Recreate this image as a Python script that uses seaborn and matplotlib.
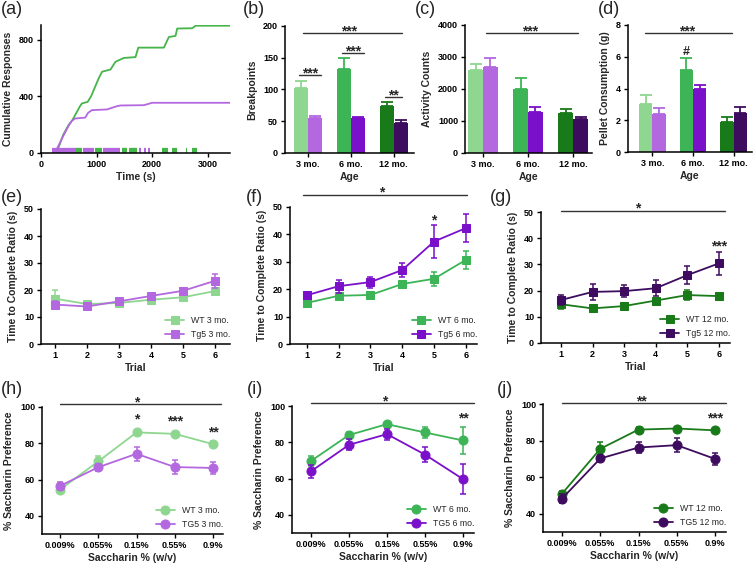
import numpy as np
import pandas as pd
import seaborn as sns
import matplotlib.pyplot as plt

sns.set_theme(style='ticks')
plt.rcParams['font.family'] = ['Liberation Sans', 'DejaVu Sans']
plt.rcParams['font.weight'] = 'bold'
plt.rcParams['axes.labelweight'] = 'bold'
plt.rcParams['axes.edgecolor'] = 'black'
plt.rcParams['axes.linewidth'] = 1.1
plt.rcParams['xtick.color'] = 'black'
plt.rcParams['ytick.color'] = 'black'

# ---- data ----
# (a) cumulative responses, one example session
wt_time = [280, 400, 500, 560, 645, 700, 735, 840, 900, 1040, 1100, 1250, 1340, 1490, 1700, 1750, 2210,
           2300, 2420, 2450, 2720, 2780, 3400]
wt_cum = [0, 130, 200, 230, 290, 330, 350, 362, 400, 530, 575, 590, 645, 672, 678, 745, 745,
          820, 828, 880, 882, 900, 900]
tg_time = [250, 400, 500, 555, 615, 795, 850, 916, 1187, 1367, 1428, 1850, 2000, 3400]
tg_cum = [0, 120, 195, 227, 244, 250, 285, 303, 308, 331, 336, 338, 355, 355]
wt_bursts = [(280, 310), (630, 730), (970, 1100), (1450, 1550), (1600, 1730), (2180, 2280),
             (2350, 2450), (2600, 2625), (2720, 2800)]
tg_bursts = [(190, 630), (650, 690), (760, 960), (1110, 1420), (1480, 1520), (1580, 1610),
             (1660, 1700), (1760, 1790), (1850, 1880), (1930, 1960)]

ages = ['3 mo.', '6 mo.', '12 mo.']
bp_wt = [103, 132, 74]
bp_wt_err = [11, 17, 7]
bp_tg = [54.6, 54.6, 48]
bp_tg_err = [3.5, 2, 4]
act_wt = [2595, 1990, 1240]
act_wt_err = [185, 345, 150]
act_tg = [2700, 1270, 1060]
act_tg_err = [260, 175, 50]
pel_wt = [3.02, 5.15, 1.9]
pel_wt_err = [0.6, 0.75, 0.3]
pel_tg = [2.4, 3.95, 2.44]
pel_tg_err = [0.4, 0.27, 0.4]

trials = [1, 2, 3, 4, 5, 6]
wt3_ttc = [16.8, 14.8, 15.2, 16.4, 17.3, 19.6]
wt3_ttc_err = [3.2, 1.0, 0.8, 0.8, 1.0, 1.2]
tg3_ttc = [14.6, 13.9, 15.8, 17.8, 19.7, 23.4]
tg3_ttc_err = [1.2, 0.8, 0.8, 0.8, 1.0, 2.6]
wt6_ttc = [15.0, 17.6, 17.9, 21.9, 23.8, 30.7]
wt6_ttc_err = [0.8, 1.0, 0.8, 1.2, 2.6, 3.2]
tg6_ttc = [17.8, 21.1, 22.6, 27.0, 37.4, 42.3]
tg6_ttc_err = [1.0, 2.4, 2.0, 2.5, 6.0, 5.0]
wt12_ttc = [14.8, 13.2, 14.1, 16.2, 18.3, 17.9]
wt12_ttc_err = [1.8, 0.8, 0.8, 1.0, 2.0, 0.8]
tg12_ttc = [16.4, 19.5, 19.8, 20.9, 25.9, 30.4]
tg12_ttc_err = [2.0, 3.1, 2.3, 3.0, 3.4, 4.5]

sacc = ['0.009%', '0.055%', '0.15%', '0.55%', '0.9%']
wt3_sp = [54.5, 70.0, 86.0, 85.2, 79.5]
wt3_sp_err = [1.5, 2.8, 1.0, 1.0, 1.5]
tg3_sp = [56.5, 66.8, 74.2, 66.9, 66.4]
tg3_sp_err = [2.0, 2.0, 4.0, 3.8, 3.2]
wt6_sp = [69.7, 84.0, 90.0, 85.4, 81.0]
wt6_sp_err = [2.5, 1.5, 1.0, 3.0, 7.3]
tg6_sp = [64.0, 78.6, 84.5, 73.2, 59.7]
tg6_sp_err = [3.6, 3.0, 3.0, 4.3, 8.2]
wt12_sp = [51.0, 75.5, 86.0, 86.6, 85.6]
wt12_sp_err = [1.5, 3.7, 1.5, 1.0, 1.5]
tg12_sp = [48.3, 70.2, 76.2, 77.5, 70.0]
tg12_sp_err = [2.5, 1.8, 2.8, 3.8, 3.2]

wt_cols = ['#8fd690', '#3db556', '#197a19']
tg_cols = ['#b368e0', '#7a10c9', '#3e0c5e']

W, H = 754, 566
fig = plt.figure(figsize=(W / 100, H / 100), dpi=100)


def panel(l, t, r, b):
    ax = fig.add_axes([l / W, 1 - b / H, (r - l) / W, (b - t) / H])
    sns.despine(ax=ax)
    ax.tick_params(length=3, width=1, labelsize=6.5, pad=2)
    return ax


def sig(ax, x0, x1, y, txt, tx=None):
    ax.plot([x0, x1], [y, y], color='#333333', lw=1, clip_on=False)
    ax.annotate(txt, ((x0 + x1) / 2 if tx is None else tx, y), xytext=(0, -1.5),
                textcoords='offset points', ha='center', va='baseline', fontsize=10,
                annotation_clip=False)


def star(ax, x, y, txt):
    ax.annotate(txt, (x, y), xytext=(0, -3), textcoords='offset points', ha='center',
                va='baseline', fontsize=10, annotation_clip=False)


def bar_panel(ax, wt, wt_err, tg, tg_err):
    df = pd.DataFrame({'age': ages * 2, 'val': wt + tg, 'geno': ['WT'] * 3 + ['Tg5'] * 3})
    sns.barplot(data=df, x='age', y='val', hue='geno', order=ages, hue_order=['WT', 'Tg5'],
                width=0.66, errorbar=None, legend=False, saturation=1, ax=ax)
    for cont, cols, errs in zip(ax.containers, [wt_cols, tg_cols], [wt_err, tg_err]):
        for bar, c, e in zip(cont, cols, errs):
            bar.set_facecolor(c)
            bar.set_edgecolor('none')
            xc = bar.get_x() + bar.get_width() / 2
            ax.errorbar(xc, bar.get_height(), yerr=[[0], [e]], color=c, capsize=4,
                        elinewidth=1.3, capthick=1.3)
    ax.set_xlabel('Age', fontsize=7.5, labelpad=2)


def line_panel(ax, x, wt, wt_err, tg, tg_err, cw, ct, marker, ms, labels):
    for y, e, c, lab in [(wt, wt_err, cw, labels[0]), (tg, tg_err, ct, labels[1])]:
        sns.lineplot(x=x, y=y, color=c, marker=marker, markersize=ms, markeredgecolor=c,
                     lw=1.3, label=lab, ax=ax)
        ax.errorbar(x, y, yerr=e, fmt='none', ecolor=c, capsize=2.5, elinewidth=1.1, capthick=1.1)
    ax.legend(loc='lower right', frameon=False, prop={'weight': 'normal', 'size': 6.3},
              handlelength=2.2, borderaxespad=0.2, labelspacing=0.5, bbox_to_anchor=(1.03, 0))


# (a)
ax = panel(41, 25, 230, 153)
sns.lineplot(x=wt_time, y=wt_cum, color='#45b549', lw=1.3, sort=False, ax=ax)
sns.lineplot(x=tg_time, y=tg_cum, color='#b368e0', lw=1.3, sort=False, ax=ax)
for t0, t1 in tg_bursts:
    ax.hlines(14, t0, t1, color='#b368e0', lw=4.5)
for t0, t1 in wt_bursts:
    ax.hlines(14, t0, t1, color='#45b549', lw=4.5)
ax.set_xlim(0, 3400)
ax.set_ylim(0, 905)
ax.set_xticks([0, 1000, 2000, 3000])
ax.set_yticks([0, 400, 800])
ax.set_xlabel('Time (s)', fontsize=7.5, labelpad=2)
ax.set_ylabel('Cumulative Responses', fontsize=7.5)

# (b)
ax = panel(285, 26, 414, 153)
bar_panel(ax, bp_wt, bp_wt_err, bp_tg, bp_tg_err)
ax.set_xlim(-0.53, 2.47)
ax.set_ylim(0, 200)
ax.set_yticks([0, 50, 100, 150, 200])
ax.set_ylabel('Breakpoints', fontsize=7.5)
sig(ax, -0.1, 2.2, 189, '***', tx=0.95)
sig(ax, -0.2, 0.3, 123, '***')
sig(ax, 0.8, 1.3, 157, '***')
sig(ax, 1.8, 2.2, 88, '**')

# (c)
ax = panel(465, 25, 592, 153)
bar_panel(ax, act_wt, act_wt_err, act_tg, act_tg_err)
ax.set_xlim(-0.4, 2.42)
ax.set_ylim(0, 4000)
ax.set_yticks([0, 1000, 2000, 3000, 4000])
ax.set_ylabel('Activity Counts', fontsize=7.5)
sig(ax, 0.07, 2.1, 3750, '***', tx=1.04)

# (d)
ax = panel(628, 25, 752, 152)
bar_panel(ax, pel_wt, pel_wt_err, pel_tg, pel_tg_err)
ax.set_xlim(-0.6, 2.45)
ax.set_ylim(0, 8)
ax.set_yticks([0, 2, 4, 6, 8])
ax.set_ylabel('Pellet Consumption (g)', fontsize=7.5)
sig(ax, -0.17, 1.95, 7.5, '***', tx=0.86)
ax.text(0.84, 6.3, '#', ha='center', va='center', fontsize=9)

# (e)-(g)
ttc = [
    ((41, 209, 230, 344), (0.56, 6.47), wt3_ttc, wt3_ttc_err, tg3_ttc, tg3_ttc_err, 0, ['WT 3 mo.', 'Tg5 3 mo.']),
    ((290, 207, 477, 344), (0.47, 6.35), wt6_ttc, wt6_ttc_err, tg6_ttc, tg6_ttc_err, 1, ['WT 6 mo.', 'Tg5 6 mo.']),
    ((541, 212, 730, 343), (0.37, 6.35), wt12_ttc, wt12_ttc_err, tg12_ttc, tg12_ttc_err, 2, ['WT 12 mo.', 'Tg5 12 mo.']),
]
ttc_axes = []
for box, xl, wt, we, tg, te, k, labs in ttc:
    ax = panel(*box)
    line_panel(ax, trials, wt, we, tg, te, wt_cols[k], tg_cols[k], 's', 5.5, labs)
    ax.set_xlim(*xl)
    ax.set_ylim(0, 50)
    ax.set_xticks(trials)
    ax.set_yticks([0, 10, 20, 30, 40, 50])
    ax.set_xlabel('Trial', fontsize=7.5, labelpad=2)
    ax.set_ylabel('Time to Complete Ratio (s)', fontsize=7.5)
    ttc_axes.append(ax)
sig(ttc_axes[1], 0.87, 6.02, 54.5, '*', tx=3.35)
star(ttc_axes[1], 5, 45, '*')
sig(ttc_axes[2], 1.0, 6.2, 50.5, '*', tx=3.44)
star(ttc_axes[2], 6, 37, '***')

# (h)-(j)
sp = [
    ((42, 407, 223, 534), (-0.47, 4.26), wt3_sp, wt3_sp_err, tg3_sp, tg3_sp_err, 0, ['WT 3 mo.', 'TG5 3 mo.']),
    ((292, 406, 474, 533), (-0.5, 4.29), wt6_sp, wt6_sp_err, tg6_sp, tg6_sp_err, 1, ['WT 6 mo.', 'TG5 6 mo.']),
    ((543, 404, 726, 532), (-0.5, 4.29), wt12_sp, wt12_sp_err, tg12_sp, tg12_sp_err, 2, ['WT 12 mo.', 'TG5 12 mo.']),
]
sp_axes = []
pos = list(range(len(sacc)))
for box, xl, wt, we, tg, te, k, labs in sp:
    ax = panel(*box)
    line_panel(ax, pos, wt, we, tg, te, wt_cols[k], tg_cols[k], 'o', 6.5, labs)
    ax.set_xlim(*xl)
    ax.set_ylim(30, 100)
    ax.set_xticks(pos)
    ax.set_xticklabels(sacc)
    ax.set_yticks([40, 60, 80, 100])
    ax.set_xlabel('Saccharin % (w/v)', fontsize=7.5, labelpad=2)
    ax.set_ylabel('% Saccharin Preference', fontsize=7.5)
    sp_axes.append(ax)
sig(sp_axes[0], 0, 4.22, 101.5, '*', tx=2.0)
star(sp_axes[0], 2, 93, '*')
star(sp_axes[0], 3, 92, '***')
star(sp_axes[0], 4, 86, '**')
sig(sp_axes[1], 0, 4.29, 101.5, '*', tx=1.95)
star(sp_axes[1], 4, 93, '**')
sig(sp_axes[2], 0, 4.28, 100.5, '**', tx=2.08)
star(sp_axes[2], 4, 92.4, '***')

# panel letters
for txt, x, y in [('(a)', 1, 9), ('(b)', 243, 9), ('(c)', 415, 9), ('(d)', 598, 9),
                  ('(e)', 1, 197), ('(f)', 246, 197), ('(g)', 490, 197),
                  ('(h)', 1, 390), ('(i)', 247, 390), ('(j)', 497, 390)]:
    fig.text(x / W, 1 - y / H, txt, ha='left', va='center', fontsize=13, fontweight='normal')

fig.savefig('out.png', dpi=100)
